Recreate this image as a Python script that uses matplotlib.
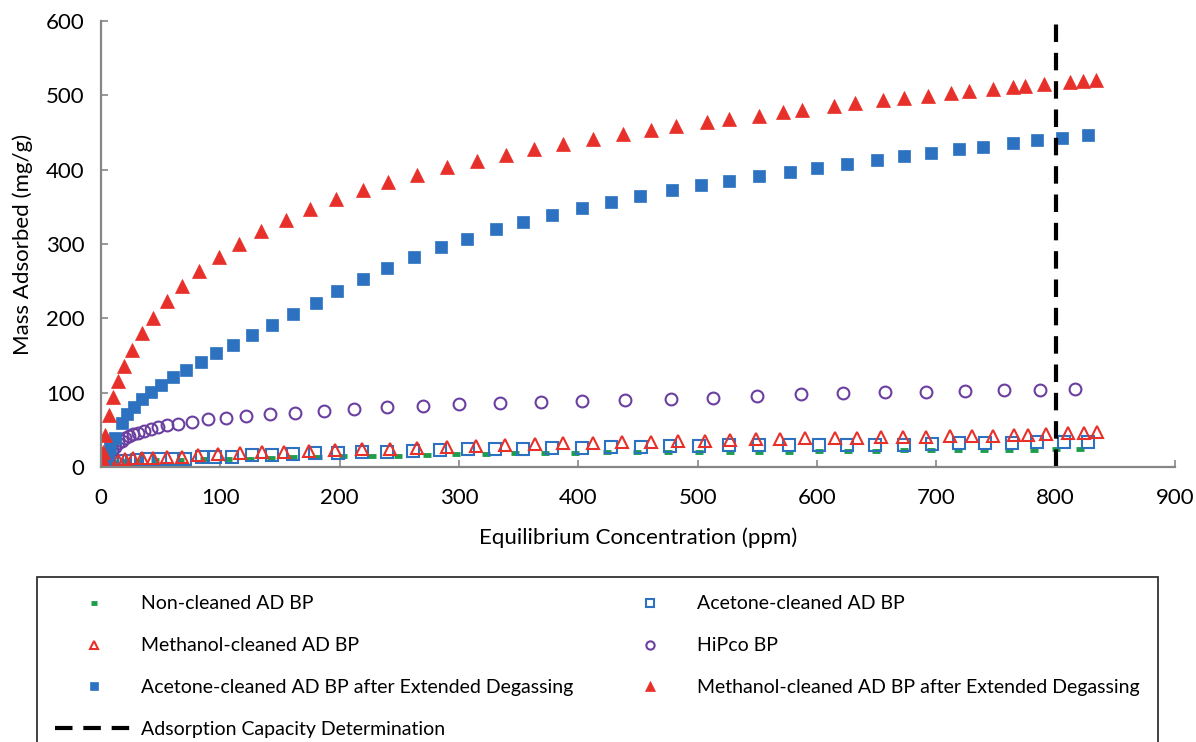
import matplotlib
matplotlib.use("Agg")
import matplotlib.pyplot as plt

plt.rcParams['font.family'] = ['Lato', 'DejaVu Sans']

# --- DATOS ---
non_x = [1.7, 5.9, 11.7, 20.1, 31, 45.3, 66.2, 86.3, 106.7, 124.9, 142.5, 161.2, 182.1, 203.1, 226.9,
         249.2, 273, 297.6, 322.5, 347, 372.2, 397.3, 423.9, 449.5, 475.5, 501.3, 526.7, 551.8, 576.9,
         601.3, 625.9, 649.6, 672.5, 695.5, 717.8, 739.6, 760.5, 781.5, 800.5, 820]
non_y = [2.7, 5.4, 6.7, 8.1, 8.7, 9.4, 9.4, 10.1, 10.4, 11.2, 12.1, 13, 13.9, 14.5, 14.8,
         15.2, 16.1, 17.1, 17.9, 18.4, 19.2, 19.2, 19.8, 19.8, 20.6, 20.6, 20.6, 20.6, 20.6,
         21.5, 21.9, 21.9, 22.9, 22.9, 22.9, 22.9, 22.9, 22.9, 23.8, 24.2]

ac_x = [0.8, 4.2, 9.2, 15.9, 23.7, 29.9, 38.3, 49.5, 59.3, 70.4, 84.4, 95.6, 110.1, 126.3, 143.1,
        161.2, 179.4, 198.9, 219, 240, 261.8, 284.2, 307.4, 330.3, 354, 378.3, 402.9, 427.2, 452.4,
        476.4, 501.5, 526.4, 551, 576.9, 601.3, 625.1, 648.8, 672.5, 696.3, 718.6, 741, 763.4,
        784.3, 806.6, 826.7]
ac_y = [1.3, 5.4, 7.4, 8.1, 8.5, 9.4, 10.4, 10.4, 10.8, 11.4, 12.8, 13, 13.9, 15.7, 16.1,
        17.5, 18.4, 19.2, 20.2, 20.6, 21.9, 22.9, 23.8, 24.2, 24.6, 25.6, 26, 26.5, 27.3,
        28.3, 28.7, 29.2, 29.6, 29.6, 29.6, 29.6, 29.6, 29.6, 30.9, 31.8, 32.7, 32.7,
        33.2, 34, 34]

mc_x = [1.7, 9, 14.5, 20.1, 26.6, 34.1, 43.8, 55.1, 67.6, 81.6, 98.3, 116.5, 134.7, 153.4, 174.4,
        196.1, 219, 242.2, 265.1, 289.8, 314.3, 338.6, 363.8, 387.5, 412.7, 437, 460.8, 483.4,
        506.3, 527.2, 549, 569, 590.1, 615.3, 633.5, 653.8, 672, 691.5, 711.1, 729.8, 747.4,
        764.7, 776.8, 791.5, 810, 823.4, 834.6]
mc_y = [2.7, 7.1, 9.4, 10.8, 11.7, 12.1, 12.4, 13, 14.1, 15.5, 17.1, 18.4, 19.8, 20.6, 21.5,
        22.9, 23.8, 24.5, 26, 26.5, 28.3, 29.6, 30.5, 31.9, 32.7, 33.2, 34, 35,
        35.4, 36.3, 37.3, 37, 38.6, 38.6, 39.4, 40, 40.8, 40.8, 42.1, 42.1, 42.1,
        43, 43, 44.4, 45.3, 46.1, 46.6]

hp_x = [0.5, 1.9, 4.2, 6.1, 8.9, 11.7, 14.5, 17.4, 20.1, 23.5, 27.1, 31.3, 36.3, 41.9, 48, 55.6,
        64.8, 76.3, 89.4, 104.5, 121.8, 141.4, 162.9, 186.9, 212.3, 239.5, 269.7, 300.3, 334.5,
        368.6, 403.4, 439.5, 477.5, 513, 549.9, 586.8, 622.2, 657.2, 691.3, 724.2, 756.3, 787.1,
        816.4]
hp_y = [1, 7.1, 13.5, 18.4, 22.9, 27.3, 31.9, 35.4, 38.6, 41.7, 44, 46.1, 48.8, 51.5, 53.4, 56.1,
        57.9, 60.9, 64.2, 66.3, 68.6, 71.3, 73.1, 75.7, 77.6, 80.3, 82.5, 84.4, 86.1,
        87.9, 88.8, 90.1, 91.1, 93.1, 95.5, 97.8, 99.2, 100.5, 100.9, 102.6, 103.2, 104,
        104.9]

ae_x = [1.9, 3.4, 5.5, 7.5, 11.7, 17.4, 22, 27.9, 34.6, 41.7, 50.5, 60.4, 71.2, 83.6, 96.4, 110.4,
        126.3, 143.3, 161.2, 180, 198.1, 219.9, 239.5, 262.4, 285, 306.5, 331.1, 353.5, 378,
        402.9, 427.7, 452, 478.4, 503.2, 526.6, 551, 577, 600.4, 625.1, 650.5, 672.8, 695.7,
        718.9, 739.3, 763.9, 784.3, 805.5, 827.3]
ae_y = [0.4, 9.4, 16, 26, 38.6, 58.8, 70.9, 81.1, 91.5, 101.3, 110.3, 120.7, 130.5, 141.7, 153, 164.1,
        177.2, 191, 205.8, 221, 236.4, 253.3, 267.3, 282.5, 296.4, 306.7, 319.8, 329.2, 339,
        348.8, 356.9, 364.6, 372.3, 379, 385.2, 391.9, 397.3, 402.7, 408, 413.4, 418, 422.4,
        427.4, 430.9, 435.5, 439.5, 443, 446.3]

me_x = [1.4, 1.4, 3.4, 6.7, 9.8, 14.2, 19.3, 26, 34.1, 43.6, 55.1, 67.9, 82.1, 98.7, 115.7, 134.1,
        155.1, 174.9, 196.7, 219.4, 240.3, 264.9, 289.8, 314.9, 339.5, 363, 387.5, 412.2, 437.6,
        460.8, 482, 508, 526.6, 551, 571.1, 587.8, 614.2, 632, 655.2, 673.1, 692.6, 712.5, 727.3,
        747.7, 763.9, 774.3, 790.4, 812.2, 822.9, 834]
me_y = [9.4, 20.6, 43, 70, 94.6, 115.7, 135.9, 157.4, 180.3, 200.9, 223.4, 243.9, 264.1, 282.5, 300, 317.5,
        332.3, 347.1, 360.6, 372.7, 383.4, 392.8, 403.2, 412.1, 419.7, 427.4, 434.5, 441.3, 448,
        453.8, 458.4, 464.1, 468.2, 472.6, 477.2, 480.3, 485.3, 489.3, 493.3, 496, 499.5, 503.2, 505.4,
        508.5, 510.8, 512.6, 515.3, 517.6, 519.3, 520.7]

capacity_x = 800

labels = ["Non-cleaned AD BP", "Acetone-cleaned AD BP", "Methanol-cleaned AD BP", "HiPco BP",
          "Acetone-cleaned AD BP after Extended Degassing",
          "Methanol-cleaned AD BP after Extended Degassing",
          "Adsorption Capacity Determination"]

# --- COLORES ---
ROJO = '#E8302A'
AZUL = '#2C72C0'
MORADO = '#6B3FA0'
VERDE = '#1E9E4A'
GRIS = '#868686'

fig = plt.figure(figsize=(11.96, 7.42), dpi=100)
ax = fig.add_axes([101 / 1196, 1 - 467 / 742, 1074 / 1196, 446 / 742])

h_non, = ax.plot(non_x, non_y, ls='none', marker='_', ms=6, mew=3.5, color=VERDE, label=labels[0])
h_ac, = ax.plot(ac_x, ac_y, ls='none', marker='s', ms=8, mew=1.5, mfc='none', mec=AZUL, label=labels[1])
h_mc, = ax.plot(mc_x, mc_y, ls='none', marker='^', ms=9, mew=1.5, mfc='none', mec=ROJO, label=labels[2])
h_hp, = ax.plot(hp_x, hp_y, ls='none', marker='o', ms=8.5, mew=1.5, mfc='none', mec=MORADO, label=labels[3])
h_ae, = ax.plot(ae_x, ae_y, ls='none', marker='s', ms=8, mew=0.5, color=AZUL, label=labels[4])
h_me, = ax.plot(me_x, me_y, ls='none', marker='^', ms=9.5, mew=0.5, color=ROJO, label=labels[5])
h_cap = ax.axvline(capacity_x, ymin=0, ymax=1, color='black', lw=3, ls=(0, (4.2, 2.6)), label=labels[6])

ax.set_xlim(0, 900)
ax.set_ylim(0, 600)
ax.set_xticks(range(0, 901, 100))
ax.set_yticks(range(0, 601, 100))
ax.spines['top'].set_visible(False)
ax.spines['right'].set_visible(False)
for s in ('left', 'bottom'):
    ax.spines[s].set_color(GRIS)
    ax.spines[s].set_linewidth(1.6)
ax.tick_params(direction='in', length=5, width=1.2, color=GRIS, labelsize=16)
ax.tick_params(axis='x', pad=15)
ax.tick_params(axis='y', pad=12)
ax.set_xlabel("Equilibrium Concentration (ppm)", fontsize=16, labelpad=14)
ax.set_ylabel("Mass Adsorbed (mg/g)", fontsize=16, labelpad=9)

# leyenda: orden por columnas
handles = [h_non, h_mc, h_ae, h_cap, h_ac, h_hp, h_me]
leg_labels = [h.get_label() for h in handles]
leg = fig.legend(handles, leg_labels, ncol=2, loc='upper left',
                 bbox_to_anchor=(37 / 1196, 1 - 577 / 742, (1158 - 37) / 1196, 0.0),
                 mode='expand', fontsize=14, frameon=True, fancybox=False, edgecolor='black',
                 handlelength=4.0, handletextpad=0.4, labelspacing=1.28, borderpad=0.95,
                 markerscale=0.7, borderaxespad=0)
leg.get_frame().set_linewidth(1.3)

fig.savefig("out.png", dpi=100)
